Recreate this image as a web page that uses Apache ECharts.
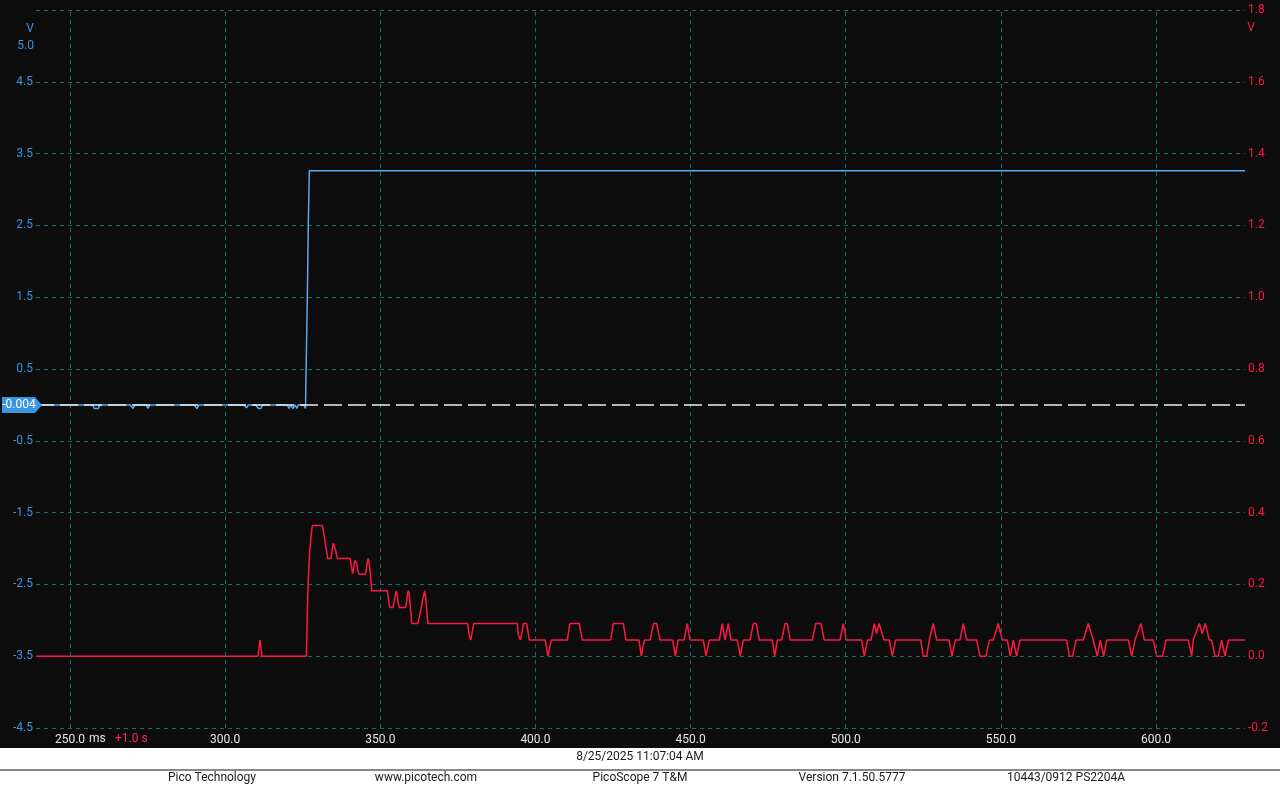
<!DOCTYPE html>
<html>
<head>
<meta charset="utf-8">
<title>PicoScope capture</title>
<script src="https://cdn.jsdelivr.net/npm/echarts@6/dist/echarts.min.js"></script>
<style>
  html, body { margin: 0; padding: 0; background: #0d0d0d; }
  #chart { width: 1280px; height: 785px; }
</style>
</head>
<body>
<div id="chart"></div>
<script>
/* time axis (ms), grid ticks */
var timeTicks = [250, 300, 350, 400, 450, 500, 550, 600];
var timeMin = 239.04, timeMax = 628.67;

/* channel A (blue, left axis, V) */
var blueT = [239.04, 240.5, 257.4, 257.8, 259.1, 259.6, 269.4, 270.3, 270.9, 274.6, 275.1, 275.7,
  290.0, 290.9, 291.6, 306.0, 306.9, 307.5, 309.8, 310.8, 311.5, 312.1,
  320.0, 320.6, 321.2, 321.8, 322.5, 323.1, 323.5, 325.3, 325.9,
  326.06, 326.45, 326.47, 326.78, 326.8, 327.1, 327.12, 628.67];
var blueV = [-0.04, 0, 0, -0.05, -0.05, 0, 0, -0.05, 0, 0, -0.05, 0,
  0, -0.05, 0, 0, -0.04, 0, 0, -0.05, -0.05, 0,
  0, -0.05, 0, -0.05, 0, -0.05, 0, 0, -0.05,
  0.42, 0.42, 1.46, 1.46, 2.52, 2.52, 3.26, 3.26];

/* channel B (red, right axis, V) */
var redT = [239.04, 310.59, 311.23, 311.87, 326.15, 326.28, 326.47, 326.80, 327.12, 327.44,
  327.76, 328.09, 331.31, 331.63, 331.95, 332.40, 332.73, 333.05, 334.11, 334.53,
  334.85, 335.18, 335.50, 335.95, 336.27, 340.33, 340.56, 340.88, 341.11, 341.43,
  341.75, 342.07, 342.39, 342.72, 343.14, 345.17, 345.49, 345.81, 346.13, 346.45,
  346.78, 347.10, 347.23, 352.25, 352.58, 352.90, 353.22, 354.19, 354.51, 354.83,
  355.16, 355.48, 355.80, 356.12, 358.18, 358.51, 358.83, 359.02, 359.34, 359.57,
  359.89, 360.12, 362.05, 362.37, 362.70, 363.02, 363.34, 363.66, 363.99, 364.31,
  364.63, 364.95, 365.15, 365.37, 378.16, 378.58, 379.13, 379.45, 380.10, 394.15,
  394.47, 395.12, 395.76, 396.08, 397.18, 398.02,
  403.17, 404.04, 404.37, 405.11,
  410.26, 411.13, 414.13, 415.10,
  424.25, 425.09, 428.31, 429.18,
  433.37, 434.11, 435.08,
  436.92, 438.11, 439.07, 440.14,
  444.23, 445.07, 445.94,
  447.87, 448.94, 449.81,
  454.09, 454.96, 456.03,
  459.25, 460.22, 461.09, 462.15, 463.02,
  465.05, 466.02, 466.98,
  469.14, 470.21, 471.17, 472.14,
  476.33, 477.10, 477.94,
  479.36, 480.42, 481.16, 482.13,
  489.22, 490.32, 492.02, 493.09,
  498.15, 499.21, 500.18,
  505.14, 505.98, 507.01,
  508.14, 509.20, 509.91, 510.72, 512.33,
  514.04, 515.00, 516.10,
  524.15, 524.99, 526.09, 526.93, 528.21, 529.31,
  533.27, 534.24, 535.30,
  536.82, 537.88, 538.98,
  542.20, 543.26, 545.20, 546.26,
  547.55, 549.16, 550.45,
  552.06, 553.03, 554.00, 555.09, 556.16,
  571.21, 572.04, 573.14, 574.20,
  576.55, 578.17, 579.78, 581.07, 582.03, 583.13, 584.10,
  591.06, 592.15, 593.22,
  593.77, 595.15, 596.21,
  599.12, 600.21, 602.14, 603.21,
  610.39, 611.49, 612.01, 613.94, 614.90, 615.87, 617.16, 617.93, 619.00, 620.07,
  621.16, 622.22, 623.28, 628.67];
var redV = [0, 0, 0.045, 0, 0, 0.036, 0.123, 0.212, 0.28, 0.31,
  0.34, 0.364, 0.364, 0.35, 0.334, 0.306, 0.29, 0.272, 0.272, 0.298,
  0.315, 0.32, 0.298, 0.28, 0.272, 0.272, 0.256, 0.24, 0.23, 0.249,
  0.267, 0.272, 0.258, 0.24, 0.228, 0.228, 0.24, 0.262, 0.272, 0.258,
  0.23, 0.2, 0.182, 0.182, 0.163, 0.142, 0.136, 0.136, 0.156, 0.17,
  0.182, 0.167, 0.147, 0.136, 0.136, 0.152, 0.175, 0.182, 0.175, 0.146,
  0.119, 0.091, 0.091, 0.1, 0.114, 0.128, 0.142, 0.158, 0.17, 0.182,
  0.163, 0.133, 0.105, 0.091, 0.091, 0.06, 0.045, 0.06, 0.091, 0.091,
  0.06, 0.045, 0.07, 0.091, 0.091, 0.045,
  0.045, 0, 0, 0.045,
  0.045, 0.091, 0.091, 0.045,
  0.045, 0.091, 0.091, 0.045,
  0.045, 0, 0.045,
  0.045, 0.091, 0.091, 0.045,
  0.045, 0, 0.045,
  0.045, 0.091, 0.045,
  0.045, 0, 0.045,
  0.045, 0.091, 0.045, 0.091, 0.045,
  0.045, 0, 0.045,
  0.045, 0.091, 0.091, 0.045,
  0.045, 0, 0.045,
  0.045, 0.091, 0.091, 0.045,
  0.045, 0.091, 0.091, 0.045,
  0.045, 0.091, 0.045,
  0.045, 0, 0.045,
  0.045, 0.091, 0.063, 0.091, 0.045,
  0.045, 0, 0.045,
  0.045, 0, 0, 0.045, 0.091, 0.045,
  0.045, 0, 0.045,
  0.045, 0.091, 0.045,
  0.045, 0, 0, 0.045,
  0.045, 0.091, 0.045,
  0.045, 0, 0.045, 0, 0.045,
  0.045, 0, 0, 0.045,
  0.045, 0.091, 0.045, 0, 0.045, 0, 0.045,
  0.045, 0, 0.045,
  0.045, 0.091, 0.045,
  0.045, 0, 0, 0.045,
  0.045, 0, 0.045, 0.091, 0.063, 0.091, 0.045, 0.045, 0, 0,
  0.045, 0, 0.045, 0.045];

/* footer texts */
var footerItems = ['Pico Technology', 'www.picotech.com', 'PicoScope 7 T&M', 'Version 7.1.50.5777', '10443/0912 PS2204A'];
var footerX = [212, 426, 640, 852, 1066];
var captureDate = '8/25/2025 11:07:04 AM';
var rulerValue = -0.004;

function zip(a, b) {
  var out = [];
  for (var i = 0; i < a.length; i++) out.push([a[i], b[i]]);
  return out;
}

var BLUE = '#3a94e4';
var TRACE_BLUE = '#5aa9f0';
var RED = '#ff1744';
var GRID = '#1c6a6b';
var FONT = 'Roboto, "Liberation Sans", sans-serif';

var myChart = echarts.init(document.getElementById('chart'));

var footerGraphics = footerItems.map(function (t, i) {
  return {
    type: 'text', x: footerX[i], y: 778, z: 6,
    style: { text: t, fill: '#1a1a1a', font: '12px ' + FONT, textAlign: 'center', textVerticalAlign: 'middle' }
  };
});

var option = {
  backgroundColor: '#0d0d0d',
  animation: false,
  grid: { left: 36, right: 35, top: 10, bottom: 57 },
  xAxis: {
    type: 'value',
    min: timeMin,
    max: timeMax,
    axisLine: { show: false },
    axisTick: { show: false },
    splitLine: { show: false },
    axisLabel: {
      customValues: timeTicks,
      color: '#e6e6e6',
      fontFamily: FONT,
      fontSize: 12,
      margin: 6,
      formatter: function (v) { return v.toFixed(1); }
    }
  },
  yAxis: [{
    type: 'value',
    position: 'left',
    min: -4.5,
    max: 5.5,
    interval: 1,
    axisLine: { show: false },
    axisTick: { show: false },
    axisLabel: {
      color: BLUE, fontFamily: FONT, fontSize: 12, margin: 3,
      formatter: function (v) { return v > 5 ? '' : v.toFixed(1); }
    },
    splitLine: { show: true, lineStyle: { color: GRID, type: [4, 4], width: 1 } }
  }, {
    type: 'value',
    position: 'right',
    min: -0.2,
    max: 1.8,
    interval: 0.2,
    axisLine: { show: false },
    axisTick: { show: false },
    axisLabel: {
      color: RED, fontFamily: FONT, fontSize: 12, margin: 3,
      formatter: function (v) { return v.toFixed(1); }
    },
    splitLine: { show: false }
  }],
  series: [{
    // vertical grid lines
    type: 'line',
    data: [],
    z: 1,
    silent: true,
    markLine: {
      silent: true,
      symbol: 'none',
      animation: false,
      label: { show: false },
      lineStyle: { color: GRID, type: [4, 4], width: 1 },
      data: timeTicks.map(function (v) { return { xAxis: v }; })
    }
  }, {
    name: 'B',
    type: 'line',
    yAxisIndex: 1,
    data: zip(redT, redV),
    showSymbol: false,
    z: 3,
    lineStyle: { color: RED, width: 1.5 },
    itemStyle: { color: RED }
  }, {
    name: 'A',
    type: 'line',
    yAxisIndex: 0,
    data: zip(blueT, blueV),
    showSymbol: false,
    z: 4,
    lineStyle: { color: TRACE_BLUE, width: 1.5 },
    itemStyle: { color: TRACE_BLUE },
    markLine: {
      silent: true,
      symbol: 'none',
      animation: false,
      label: { show: false },
      lineStyle: { color: '#ededed', type: [18, 6], width: 1.5 },
      data: [{ yAxis: rulerValue }]
    }
  }],
  graphic: [
    { type: 'text', x: 30, y: 29, style: { text: 'V', fill: BLUE, font: '12px ' + FONT, textAlign: 'center', textVerticalAlign: 'middle' } },
    { type: 'text', x: 34, y: 46, style: { text: '5.0', fill: BLUE, font: '12px ' + FONT, textAlign: 'right', textVerticalAlign: 'middle' } },
    { type: 'text', x: 1251, y: 28, style: { text: 'V', fill: RED, font: '12px ' + FONT, textAlign: 'center', textVerticalAlign: 'middle' } },
    { type: 'text', x: 89, y: 739, style: { text: 'ms', fill: '#e6e6e6', font: '12px ' + FONT, textAlign: 'left', textVerticalAlign: 'middle' } },
    { type: 'text', x: 115, y: 739, style: { text: '+1.0 s', fill: '#ff2a4f', font: '12px ' + FONT, textAlign: 'left', textVerticalAlign: 'middle' } },
    // ruler tag
    { type: 'polygon', shape: { points: [[2, 397], [35, 397], [42, 405], [35, 413], [2, 413]] }, style: { fill: BLUE }, z: 10 },
    { type: 'text', x: 19, y: 405, z: 11, style: { text: String(rulerValue), fill: '#ffffff', font: '12px ' + FONT, textAlign: 'center', textVerticalAlign: 'middle' } },
    // footer
    { type: 'rect', shape: { x: 0, y: 748, width: 1280, height: 37 }, style: { fill: '#ffffff' }, z: 5 },
    { type: 'line', shape: { x1: 0, y1: 770, x2: 1280, y2: 770 }, style: { stroke: '#111111', lineWidth: 1 }, z: 6 },
    { type: 'text', x: 640, y: 757, z: 6, style: { text: captureDate, fill: '#1a1a1a', font: '12px ' + FONT, textAlign: 'center', textVerticalAlign: 'middle' } }
  ].concat(footerGraphics)
};

myChart.setOption(option);
</script>
</body>
</html>
